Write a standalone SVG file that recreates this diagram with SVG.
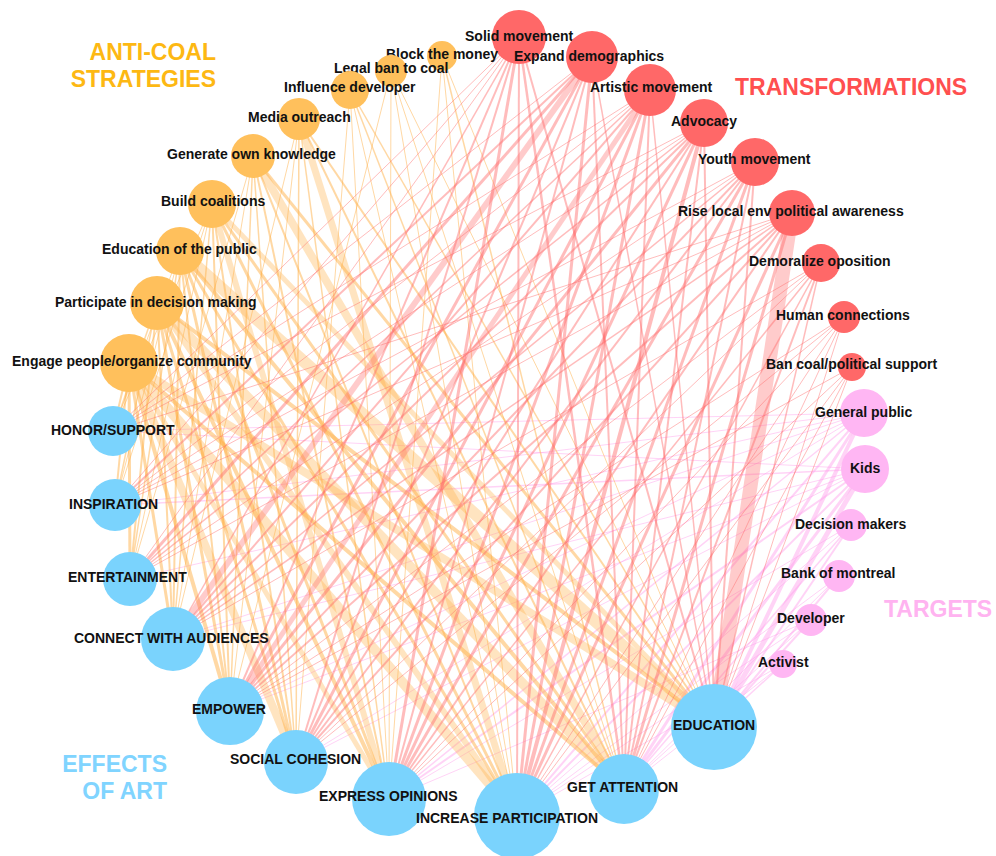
<svg xmlns="http://www.w3.org/2000/svg" width="996" height="856" viewBox="0 0 996 856">
<style>
.eo line{stroke:#FFB24A;stroke-opacity:.5}
.er line{stroke:#FF6B6B;stroke-opacity:.45}
.ep line{stroke:#FF9DEB;stroke-opacity:.45}
.thick line{stroke-opacity:.35}
.so{fill:#FFC05C}
.sr{fill:#FF6868}
.sp{fill:#FFB6F3}
.sb{fill:#7AD3FD}
text{font-family:"Liberation Sans",Arial,sans-serif;font-weight:bold}
.lab{font-size:14px;fill:#111}
.cat{font-size:23px}
</style>
<rect width="996" height="856" fill="#fff"/>
<g id="connectors">
<g class="ep">
<line x1="864" y1="413" x2="714" y2="727" stroke-width="4"/>
<line x1="864" y1="413" x2="624" y2="789" stroke-width="3"/>
<line x1="864" y1="413" x2="517" y2="816" stroke-width="2"/>
<line x1="864" y1="413" x2="389" y2="799" stroke-width="1.5"/>
<line x1="864" y1="413" x2="296" y2="762" stroke-width="1"/>
<line x1="864" y1="413" x2="230" y2="711" stroke-width="1"/>
<line x1="864" y1="413" x2="173" y2="639" stroke-width="1"/>
<line x1="864" y1="413" x2="130" y2="579" stroke-width="1"/>
<line x1="864" y1="413" x2="115" y2="505" stroke-width="1"/>
<line x1="864" y1="413" x2="113" y2="431" stroke-width="1"/>
<line x1="865" y1="469" x2="714" y2="727" stroke-width="5"/>
<line x1="865" y1="469" x2="624" y2="789" stroke-width="3"/>
<line x1="865" y1="469" x2="517" y2="816" stroke-width="2"/>
<line x1="865" y1="469" x2="389" y2="799" stroke-width="2"/>
<line x1="865" y1="469" x2="296" y2="762" stroke-width="1"/>
<line x1="865" y1="469" x2="230" y2="711" stroke-width="1"/>
<line x1="865" y1="469" x2="173" y2="639" stroke-width="1"/>
<line x1="865" y1="469" x2="115" y2="505" stroke-width="1.5"/>
<line x1="865" y1="469" x2="113" y2="431" stroke-width="1"/>
<line x1="851" y1="525" x2="714" y2="727" stroke-width="2"/>
<line x1="851" y1="525" x2="624" y2="789" stroke-width="1.5"/>
<line x1="851" y1="525" x2="517" y2="816" stroke-width="1"/>
<line x1="851" y1="525" x2="389" y2="799" stroke-width="1"/>
<line x1="839" y1="576" x2="714" y2="727" stroke-width="2"/>
<line x1="839" y1="576" x2="624" y2="789" stroke-width="1"/>
<line x1="839" y1="576" x2="517" y2="816" stroke-width="1"/>
<line x1="811" y1="620" x2="714" y2="727" stroke-width="2"/>
<line x1="811" y1="620" x2="624" y2="789" stroke-width="1"/>
<line x1="811" y1="620" x2="517" y2="816" stroke-width="1"/>
<line x1="811" y1="620" x2="389" y2="799" stroke-width="1"/>
<line x1="783" y1="664" x2="714" y2="727" stroke-width="1.5"/>
<line x1="783" y1="664" x2="624" y2="789" stroke-width="1"/>
<line x1="783" y1="664" x2="517" y2="816" stroke-width="1"/>
</g>
<g class="eo thick">
<line x1="180" y1="251" x2="714" y2="727" stroke-width="12"/>
<line x1="157" y1="303" x2="624" y2="789" stroke-width="10"/>
<line x1="129" y1="363" x2="517" y2="816" stroke-width="10"/>
<line x1="129" y1="363" x2="714" y2="727" stroke-width="8"/>
<line x1="129" y1="363" x2="296" y2="762" stroke-width="8"/>
<line x1="253" y1="156" x2="624" y2="789" stroke-width="8"/>
<line x1="299" y1="119" x2="517" y2="816" stroke-width="7"/>
<line x1="212" y1="204" x2="389" y2="799" stroke-width="6"/>
<line x1="157" y1="303" x2="517" y2="816" stroke-width="6"/>
<line x1="212" y1="204" x2="714" y2="727" stroke-width="5"/>
<line x1="129" y1="363" x2="389" y2="799" stroke-width="5"/>
</g>
<g class="eo">
<line x1="442" y1="56" x2="624" y2="789" stroke-width="1.5"/>
<line x1="442" y1="56" x2="517" y2="816" stroke-width="1"/>
<line x1="442" y1="56" x2="714" y2="727" stroke-width="1"/>
<line x1="442" y1="56" x2="389" y2="799" stroke-width="1"/>
<line x1="391" y1="71" x2="714" y2="727" stroke-width="1"/>
<line x1="391" y1="71" x2="517" y2="816" stroke-width="1"/>
<line x1="391" y1="71" x2="389" y2="799" stroke-width="1"/>
<line x1="391" y1="71" x2="230" y2="711" stroke-width="1"/>
<line x1="391" y1="71" x2="624" y2="789" stroke-width="1"/>
<line x1="350" y1="90" x2="714" y2="727" stroke-width="1.5"/>
<line x1="350" y1="90" x2="624" y2="789" stroke-width="1.5"/>
<line x1="350" y1="90" x2="517" y2="816" stroke-width="1"/>
<line x1="350" y1="90" x2="296" y2="762" stroke-width="1"/>
<line x1="350" y1="90" x2="389" y2="799" stroke-width="1"/>
<line x1="299" y1="119" x2="714" y2="727" stroke-width="2"/>
<line x1="299" y1="119" x2="624" y2="789" stroke-width="2"/>
<line x1="299" y1="119" x2="389" y2="799" stroke-width="1.5"/>
<line x1="299" y1="119" x2="296" y2="762" stroke-width="1.5"/>
<line x1="299" y1="119" x2="230" y2="711" stroke-width="1"/>
<line x1="299" y1="119" x2="173" y2="639" stroke-width="1"/>
<line x1="253" y1="156" x2="714" y2="727" stroke-width="3"/>
<line x1="253" y1="156" x2="517" y2="816" stroke-width="2"/>
<line x1="253" y1="156" x2="389" y2="799" stroke-width="2"/>
<line x1="253" y1="156" x2="296" y2="762" stroke-width="1.5"/>
<line x1="253" y1="156" x2="230" y2="711" stroke-width="1.5"/>
<line x1="253" y1="156" x2="173" y2="639" stroke-width="1"/>
<line x1="253" y1="156" x2="130" y2="579" stroke-width="1"/>
<line x1="212" y1="204" x2="624" y2="789" stroke-width="3"/>
<line x1="212" y1="204" x2="517" y2="816" stroke-width="3"/>
<line x1="212" y1="204" x2="296" y2="762" stroke-width="2"/>
<line x1="212" y1="204" x2="230" y2="711" stroke-width="2"/>
<line x1="212" y1="204" x2="173" y2="639" stroke-width="1.5"/>
<line x1="212" y1="204" x2="130" y2="579" stroke-width="1"/>
<line x1="212" y1="204" x2="115" y2="505" stroke-width="1"/>
<line x1="212" y1="204" x2="113" y2="431" stroke-width="1"/>
<line x1="180" y1="251" x2="624" y2="789" stroke-width="4"/>
<line x1="180" y1="251" x2="517" y2="816" stroke-width="3"/>
<line x1="180" y1="251" x2="389" y2="799" stroke-width="3"/>
<line x1="180" y1="251" x2="296" y2="762" stroke-width="3"/>
<line x1="180" y1="251" x2="230" y2="711" stroke-width="2"/>
<line x1="180" y1="251" x2="173" y2="639" stroke-width="2"/>
<line x1="180" y1="251" x2="130" y2="579" stroke-width="1.5"/>
<line x1="180" y1="251" x2="115" y2="505" stroke-width="1"/>
<line x1="180" y1="251" x2="113" y2="431" stroke-width="1"/>
<line x1="157" y1="303" x2="714" y2="727" stroke-width="4"/>
<line x1="157" y1="303" x2="389" y2="799" stroke-width="4"/>
<line x1="157" y1="303" x2="296" y2="762" stroke-width="3"/>
<line x1="157" y1="303" x2="230" y2="711" stroke-width="3"/>
<line x1="157" y1="303" x2="173" y2="639" stroke-width="2"/>
<line x1="157" y1="303" x2="130" y2="579" stroke-width="2"/>
<line x1="157" y1="303" x2="115" y2="505" stroke-width="1.5"/>
<line x1="157" y1="303" x2="113" y2="431" stroke-width="1.5"/>
<line x1="129" y1="363" x2="624" y2="789" stroke-width="4"/>
<line x1="129" y1="363" x2="230" y2="711" stroke-width="4"/>
<line x1="129" y1="363" x2="173" y2="639" stroke-width="3"/>
<line x1="129" y1="363" x2="130" y2="579" stroke-width="3"/>
<line x1="129" y1="363" x2="115" y2="505" stroke-width="2"/>
<line x1="129" y1="363" x2="113" y2="431" stroke-width="2"/>
</g>
<g class="er thick">
<line x1="792" y1="213" x2="714" y2="727" stroke-width="14"/>
<line x1="592" y1="57" x2="173" y2="639" stroke-width="6"/>
<line x1="650" y1="90" x2="230" y2="711" stroke-width="5"/>
</g>
<g class="er">
<line x1="519" y1="37" x2="714" y2="727" stroke-width="2"/>
<line x1="519" y1="37" x2="624" y2="789" stroke-width="2.5"/>
<line x1="519" y1="37" x2="517" y2="816" stroke-width="2"/>
<line x1="519" y1="37" x2="389" y2="799" stroke-width="3"/>
<line x1="519" y1="37" x2="296" y2="762" stroke-width="2"/>
<line x1="519" y1="37" x2="230" y2="711" stroke-width="2"/>
<line x1="519" y1="37" x2="173" y2="639" stroke-width="1.5"/>
<line x1="519" y1="37" x2="130" y2="579" stroke-width="1"/>
<line x1="519" y1="37" x2="115" y2="505" stroke-width="1"/>
<line x1="519" y1="37" x2="113" y2="431" stroke-width="1"/>
<line x1="592" y1="57" x2="130" y2="579" stroke-width="3"/>
<line x1="592" y1="57" x2="115" y2="505" stroke-width="2"/>
<line x1="592" y1="57" x2="230" y2="711" stroke-width="3"/>
<line x1="592" y1="57" x2="296" y2="762" stroke-width="2"/>
<line x1="592" y1="57" x2="389" y2="799" stroke-width="2"/>
<line x1="592" y1="57" x2="517" y2="816" stroke-width="3"/>
<line x1="592" y1="57" x2="624" y2="789" stroke-width="2"/>
<line x1="592" y1="57" x2="714" y2="727" stroke-width="1.5"/>
<line x1="592" y1="57" x2="113" y2="431" stroke-width="1"/>
<line x1="650" y1="90" x2="296" y2="762" stroke-width="3"/>
<line x1="650" y1="90" x2="389" y2="799" stroke-width="3"/>
<line x1="650" y1="90" x2="517" y2="816" stroke-width="3"/>
<line x1="650" y1="90" x2="624" y2="789" stroke-width="2"/>
<line x1="650" y1="90" x2="714" y2="727" stroke-width="1.5"/>
<line x1="650" y1="90" x2="173" y2="639" stroke-width="2"/>
<line x1="650" y1="90" x2="130" y2="579" stroke-width="1.5"/>
<line x1="650" y1="90" x2="115" y2="505" stroke-width="1"/>
<line x1="650" y1="90" x2="113" y2="431" stroke-width="1"/>
<line x1="704" y1="123" x2="517" y2="816" stroke-width="4"/>
<line x1="704" y1="123" x2="389" y2="799" stroke-width="3"/>
<line x1="704" y1="123" x2="296" y2="762" stroke-width="2"/>
<line x1="704" y1="123" x2="230" y2="711" stroke-width="3"/>
<line x1="704" y1="123" x2="173" y2="639" stroke-width="2"/>
<line x1="704" y1="123" x2="624" y2="789" stroke-width="2"/>
<line x1="704" y1="123" x2="714" y2="727" stroke-width="2"/>
<line x1="704" y1="123" x2="130" y2="579" stroke-width="1.5"/>
<line x1="704" y1="123" x2="115" y2="505" stroke-width="1"/>
<line x1="704" y1="123" x2="113" y2="431" stroke-width="1"/>
<line x1="755" y1="162" x2="517" y2="816" stroke-width="3"/>
<line x1="755" y1="162" x2="389" y2="799" stroke-width="3"/>
<line x1="755" y1="162" x2="624" y2="789" stroke-width="2"/>
<line x1="755" y1="162" x2="714" y2="727" stroke-width="2"/>
<line x1="755" y1="162" x2="296" y2="762" stroke-width="2"/>
<line x1="755" y1="162" x2="230" y2="711" stroke-width="2"/>
<line x1="755" y1="162" x2="173" y2="639" stroke-width="1.5"/>
<line x1="755" y1="162" x2="130" y2="579" stroke-width="1"/>
<line x1="755" y1="162" x2="115" y2="505" stroke-width="1"/>
<line x1="792" y1="213" x2="624" y2="789" stroke-width="3"/>
<line x1="792" y1="213" x2="517" y2="816" stroke-width="3"/>
<line x1="792" y1="213" x2="389" y2="799" stroke-width="2"/>
<line x1="792" y1="213" x2="296" y2="762" stroke-width="2"/>
<line x1="792" y1="213" x2="230" y2="711" stroke-width="2"/>
<line x1="792" y1="213" x2="173" y2="639" stroke-width="1.5"/>
<line x1="792" y1="213" x2="130" y2="579" stroke-width="1"/>
<line x1="792" y1="213" x2="115" y2="505" stroke-width="1"/>
<line x1="792" y1="213" x2="113" y2="431" stroke-width="1"/>
<line x1="821" y1="263" x2="714" y2="727" stroke-width="1.5"/>
<line x1="821" y1="263" x2="624" y2="789" stroke-width="2"/>
<line x1="821" y1="263" x2="517" y2="816" stroke-width="1.5"/>
<line x1="821" y1="263" x2="389" y2="799" stroke-width="1.5"/>
<line x1="821" y1="263" x2="296" y2="762" stroke-width="1"/>
<line x1="821" y1="263" x2="230" y2="711" stroke-width="1"/>
<line x1="821" y1="263" x2="173" y2="639" stroke-width="1"/>
<line x1="844" y1="317" x2="517" y2="816" stroke-width="1"/>
<line x1="844" y1="317" x2="389" y2="799" stroke-width="1"/>
<line x1="844" y1="317" x2="296" y2="762" stroke-width="1"/>
<line x1="844" y1="317" x2="714" y2="727" stroke-width="1"/>
<line x1="844" y1="317" x2="230" y2="711" stroke-width="1"/>
<line x1="844" y1="317" x2="624" y2="789" stroke-width="1"/>
<line x1="852" y1="367" x2="714" y2="727" stroke-width="1"/>
<line x1="852" y1="367" x2="624" y2="789" stroke-width="1"/>
<line x1="852" y1="367" x2="517" y2="816" stroke-width="1"/>
<line x1="852" y1="367" x2="389" y2="799" stroke-width="1"/>
<line x1="852" y1="367" x2="230" y2="711" stroke-width="1"/>
</g>
</g>
<g id="nodes">
<g id="n-solid"><circle class="sr" cx="519" cy="37" r="27"/><text class="lab" x="465" y="41">Solid movement</text></g>
<g id="n-block"><circle class="so" cx="442" cy="56" r="15"/><text class="lab" x="386" y="59">Block the money</text></g>
<g id="n-legal"><circle class="so" cx="391" cy="71" r="16"/><text class="lab" x="334" y="73">Legal ban to coal</text></g>
<g id="n-influence"><circle class="so" cx="350" cy="90" r="19"/><text class="lab" x="284" y="92">Influence developer</text></g>
<g id="n-media"><circle class="so" cx="299" cy="119" r="21"/><text class="lab" x="248" y="122">Media outreach</text></g>
<g id="n-generate"><circle class="so" cx="253" cy="156" r="22"/><text class="lab" x="167" y="159">Generate own knowledge</text></g>
<g id="n-build"><circle class="so" cx="212" cy="204" r="24"/><text class="lab" x="161" y="206">Build coalitions</text></g>
<g id="n-edupublic"><circle class="so" cx="180" cy="251" r="24"/><text class="lab" x="102" y="254">Education of the public</text></g>
<g id="n-participate"><circle class="so" cx="157" cy="303" r="27"/><text class="lab" x="55" y="307">Participate in decision making</text></g>
<g id="n-engage"><circle class="so" cx="129" cy="363" r="29"/><text class="lab" x="12" y="366">Engage people/organize community</text></g>
<g id="n-expand"><circle class="sr" cx="592" cy="57" r="26"/><text class="lab" x="514" y="61">Expand demographics</text></g>
<g id="n-artistic"><circle class="sr" cx="650" cy="90" r="26"/><text class="lab" x="590" y="92">Artistic movement</text></g>
<g id="n-advocacy"><circle class="sr" cx="704" cy="123" r="24"/><text class="lab" x="671" y="126">Advocacy</text></g>
<g id="n-youth"><circle class="sr" cx="755" cy="162" r="24"/><text class="lab" x="698" y="164">Youth movement</text></g>
<g id="n-rise"><circle class="sr" cx="792" cy="213" r="23"/><text class="lab" x="678" y="216">Rise local env political awareness</text></g>
<g id="n-demoralize"><circle class="sr" cx="821" cy="263" r="19"/><text class="lab" x="749" y="266">Demoralize oposition</text></g>
<g id="n-human"><circle class="sr" cx="844" cy="317" r="16"/><text class="lab" x="776" y="320">Human connections</text></g>
<g id="n-ban"><circle class="sr" cx="852" cy="367" r="14"/><text class="lab" x="766" y="369">Ban coal/political support</text></g>
<g id="n-general"><circle class="sp" cx="864" cy="413" r="24"/><text class="lab" x="815" y="417">General public</text></g>
<g id="n-kids"><circle class="sp" cx="865" cy="469" r="24"/><text class="lab" x="850" y="473">Kids</text></g>
<g id="n-decision"><circle class="sp" cx="851" cy="525" r="16"/><text class="lab" x="795" y="529">Decision makers</text></g>
<g id="n-bank"><circle class="sp" cx="839" cy="576" r="16"/><text class="lab" x="781" y="578">Bank of montreal</text></g>
<g id="n-developer"><circle class="sp" cx="811" cy="620" r="16"/><text class="lab" x="777" y="623">Developer</text></g>
<g id="n-activist"><circle class="sp" cx="783" cy="664" r="14"/><text class="lab" x="758" y="667">Activist</text></g>
<g id="n-honor"><circle class="sb" cx="113" cy="431" r="25"/><text class="lab" x="51" y="435">HONOR/SUPPORT</text></g>
<g id="n-inspiration"><circle class="sb" cx="115" cy="505" r="26"/><text class="lab" x="69" y="509">INSPIRATION</text></g>
<g id="n-entertainment"><circle class="sb" cx="130" cy="579" r="27"/><text class="lab" x="68" y="582">ENTERTAINMENT</text></g>
<g id="n-connect"><circle class="sb" cx="173" cy="639" r="32"/><text class="lab" x="74" y="643">CONNECT WITH AUDIENCES</text></g>
<g id="n-empower"><circle class="sb" cx="230" cy="711" r="34"/><text class="lab" x="192" y="714">EMPOWER</text></g>
<g id="n-social"><circle class="sb" cx="296" cy="762" r="32"/><text class="lab" x="230" y="764">SOCIAL COHESION</text></g>
<g id="n-express"><circle class="sb" cx="389" cy="799" r="37"/><text class="lab" x="319" y="801">EXPRESS OPINIONS</text></g>
<g id="n-increase"><circle class="sb" cx="517" cy="816" r="43"/><text class="lab" x="416" y="823">INCREASE PARTICIPATION</text></g>
<g id="n-getattention"><circle class="sb" cx="624" cy="789" r="35"/><text class="lab" x="567" y="792">GET ATTENTION</text></g>
<g id="n-education"><circle class="sb" cx="714" cy="727" r="43"/><text class="lab" x="673" y="730">EDUCATION</text></g>
</g>
<g id="categories">
<text class="cat" x="216" y="60" text-anchor="end" fill="#FDB813">ANTI-COAL</text>
<text class="cat" x="216" y="87" text-anchor="end" fill="#FDB813">STRATEGIES</text>
<text class="cat" x="735" y="95" fill="#FF4F4F">TRANSFORMATIONS</text>
<text class="cat" x="884" y="617" fill="#FFB3F0">TARGETS</text>
<text class="cat" x="167" y="772" text-anchor="end" fill="#80D4FF">EFFECTS</text>
<text class="cat" x="167" y="799" text-anchor="end" fill="#80D4FF">OF ART</text>
</g>
</svg>
